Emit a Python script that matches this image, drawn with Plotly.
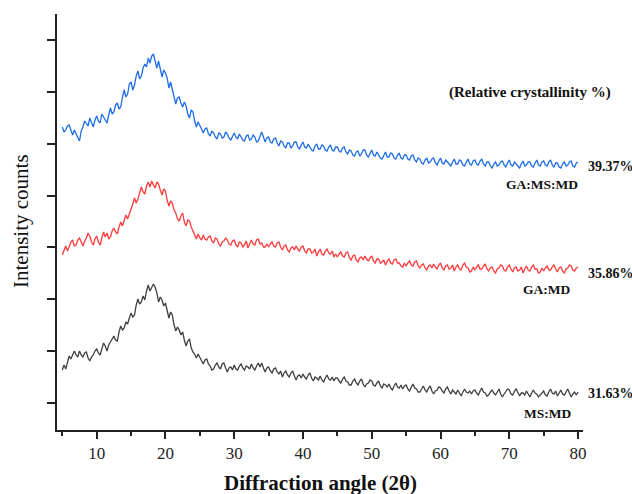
import plotly.graph_objects as go

# Diffraction angle 2θ (degrees)
two_theta = [
    5.0, 5.25, 5.5, 5.75, 6.0, 6.25, 6.5, 6.75, 7.0, 7.25, 7.5, 7.75, 8.0, 8.25, 8.5, 8.75, 9.0, 9.25, 9.5, 9.75,
    10.0, 10.25, 10.5, 10.75, 11.0, 11.25, 11.5, 11.75, 12.0, 12.25, 12.5, 12.75, 13.0, 13.25, 13.5, 13.75, 14.0, 14.25, 14.5, 14.75,
    15.0, 15.25, 15.5, 15.75, 16.0, 16.25, 16.5, 16.75, 17.0, 17.25, 17.5, 17.75, 18.0, 18.25, 18.5, 18.75, 19.0, 19.25, 19.5, 19.75,
    20.0, 20.25, 20.5, 20.75, 21.0, 21.25, 21.5, 21.75, 22.0, 22.25, 22.5, 22.75, 23.0, 23.25, 23.5, 23.75, 24.0, 24.25, 24.5, 24.75,
    25.0, 25.25, 25.5, 25.75, 26.0, 26.25, 26.5, 26.75, 27.0, 27.25, 27.5, 27.75, 28.0, 28.25, 28.5, 28.75, 29.0, 29.25, 29.5, 29.75,
    30.0, 30.25, 30.5, 30.75, 31.0, 31.25, 31.5, 31.75, 32.0, 32.25, 32.5, 32.75, 33.0, 33.25, 33.5, 33.75, 34.0, 34.25, 34.5, 34.75,
    35.0, 35.25, 35.5, 35.75, 36.0, 36.25, 36.5, 36.75, 37.0, 37.25, 37.5, 37.75, 38.0, 38.25, 38.5, 38.75, 39.0, 39.25, 39.5, 39.75,
    40.0, 40.25, 40.5, 40.75, 41.0, 41.25, 41.5, 41.75, 42.0, 42.25, 42.5, 42.75, 43.0, 43.25, 43.5, 43.75, 44.0, 44.25, 44.5, 44.75,
    45.0, 45.25, 45.5, 45.75, 46.0, 46.25, 46.5, 46.75, 47.0, 47.25, 47.5, 47.75, 48.0, 48.25, 48.5, 48.75, 49.0, 49.25, 49.5, 49.75,
    50.0, 50.25, 50.5, 50.75, 51.0, 51.25, 51.5, 51.75, 52.0, 52.25, 52.5, 52.75, 53.0, 53.25, 53.5, 53.75, 54.0, 54.25, 54.5, 54.75,
    55.0, 55.25, 55.5, 55.75, 56.0, 56.25, 56.5, 56.75, 57.0, 57.25, 57.5, 57.75, 58.0, 58.25, 58.5, 58.75, 59.0, 59.25, 59.5, 59.75,
    60.0, 60.25, 60.5, 60.75, 61.0, 61.25, 61.5, 61.75, 62.0, 62.25, 62.5, 62.75, 63.0, 63.25, 63.5, 63.75, 64.0, 64.25, 64.5, 64.75,
    65.0, 65.25, 65.5, 65.75, 66.0, 66.25, 66.5, 66.75, 67.0, 67.25, 67.5, 67.75, 68.0, 68.25, 68.5, 68.75, 69.0, 69.25, 69.5, 69.75,
    70.0, 70.25, 70.5, 70.75, 71.0, 71.25, 71.5, 71.75, 72.0, 72.25, 72.5, 72.75, 73.0, 73.25, 73.5, 73.75, 74.0, 74.25, 74.5, 74.75,
    75.0, 75.25, 75.5, 75.75, 76.0, 76.25, 76.5, 76.75, 77.0, 77.25, 77.5, 77.75, 78.0, 78.25, 78.5, 78.75, 79.0, 79.25, 79.5, 79.75,
    80.0,
]

# Intensity counts (stacked, arbitrary units)
ga_ms_md = [
    303, 298, 300, 304, 305, 299, 295, 300, 296, 292, 289, 299, 303, 309, 306, 304, 312, 307, 303, 310,
    314, 309, 307, 316, 313, 309, 307, 315, 322, 316, 318, 325, 327, 321, 323, 333, 340, 333, 336, 346,
    348, 340, 345, 354, 359, 351, 354, 362, 366, 363, 372, 367, 374, 376, 368, 362, 369, 361, 353, 360,
    357, 352, 342, 348, 340, 335, 326, 332, 333, 327, 323, 328, 324, 316, 312, 320, 318, 309, 303, 308,
    305, 301, 297, 301, 302, 296, 294, 299, 297, 293, 291, 297, 296, 292, 293, 298, 296, 292, 290, 294,
    297, 293, 291, 296, 293, 290, 289, 294, 295, 290, 291, 295, 293, 288, 289, 293, 298, 293, 288, 292,
    293, 288, 287, 291, 292, 287, 284, 289, 288, 284, 282, 287, 287, 282, 284, 288, 288, 283, 281, 285,
    288, 283, 282, 286, 283, 280, 279, 284, 286, 281, 281, 285, 284, 280, 279, 283, 285, 280, 279, 283,
    283, 279, 278, 282, 283, 278, 276, 280, 279, 275, 274, 278, 279, 274, 276, 280, 280, 275, 273, 277,
    280, 275, 274, 278, 275, 272, 271, 275, 278, 273, 273, 277, 276, 272, 271, 275, 277, 272, 271, 275,
    275, 271, 270, 274, 275, 270, 268, 272, 271, 267, 266, 270, 272, 267, 268, 271, 272, 267, 265, 269,
    272, 267, 266, 270, 268, 265, 264, 268, 271, 266, 266, 270, 269, 265, 264, 268, 271, 266, 265, 269,
    270, 266, 265, 269, 271, 266, 264, 268, 268, 264, 262, 266, 268, 264, 265, 268, 269, 265, 263, 267,
    270, 265, 264, 268, 266, 263, 262, 266, 269, 264, 265, 268, 268, 264, 263, 267, 270, 265, 264, 268,
    269, 265, 264, 268, 270, 265, 263, 267, 267, 263, 262, 266, 268, 264, 265, 268, 269, 264, 263, 267,
    268,
]

ga_md = [
    175, 180, 184, 179, 183, 188, 190, 184, 185, 190, 192, 187, 184, 189, 192, 197, 194, 188, 185, 191,
    194, 188, 185, 192, 198, 193, 197, 191, 193, 199, 202, 198, 196, 203, 208, 204, 210, 215, 211, 216,
    219, 226, 232, 227, 231, 238, 243, 238, 236, 244, 248, 243, 249, 245, 242, 248, 246, 240, 235, 241,
    239, 230, 224, 229, 227, 220, 217, 211, 209, 214, 217, 208, 204, 210, 209, 203, 199, 196, 191, 196,
    192, 190, 195, 191, 190, 193, 194, 189, 187, 192, 191, 186, 184, 188, 189, 192, 190, 186, 185, 189,
    190, 185, 183, 188, 187, 183, 185, 189, 182, 186, 190, 186, 185, 190, 191, 186, 187, 183, 183, 186,
    183, 186, 188, 184, 183, 187, 188, 183, 180, 184, 185, 180, 178, 182, 183, 180, 184, 181, 179, 183,
    184, 179, 177, 181, 181, 177, 178, 181, 174, 178, 181, 176, 175, 179, 181, 177, 176, 179, 173, 176,
    173, 176, 178, 174, 173, 177, 178, 172, 170, 174, 175, 170, 168, 172, 173, 170, 174, 171, 169, 172,
    174, 169, 167, 171, 171, 167, 168, 170, 165, 169, 171, 167, 166, 170, 171, 167, 167, 164, 163, 167,
    164, 167, 169, 165, 164, 168, 169, 164, 162, 165, 166, 162, 160, 164, 165, 162, 166, 163, 161, 165,
    167, 162, 160, 164, 165, 161, 162, 165, 159, 163, 165, 161, 160, 165, 167, 163, 162, 158, 159, 163,
    160, 163, 165, 161, 161, 164, 166, 161, 159, 162, 163, 159, 157, 161, 162, 165, 164, 160, 159, 163,
    165, 161, 158, 162, 163, 159, 160, 163, 157, 161, 164, 160, 159, 163, 165, 161, 161, 157, 158, 162,
    159, 162, 164, 160, 160, 163, 165, 161, 158, 162, 163, 159, 157, 161, 162, 165, 164, 160, 159, 162,
    163,
]

ms_md = [
    60, 65, 61, 68, 74, 71, 75, 79, 75, 73, 79, 75, 73, 77, 78, 72, 69, 73, 75, 79,
    81, 77, 75, 82, 87, 84, 79, 85, 88, 92, 94, 90, 89, 98, 104, 100, 102, 108, 106, 112,
    117, 113, 115, 125, 131, 126, 128, 134, 130, 139, 145, 139, 143, 146, 143, 137, 128, 133, 130, 124,
    127, 120, 112, 118, 115, 105, 99, 103, 100, 95, 98, 90, 84, 89, 91, 82, 78, 76, 72, 76,
    73, 69, 66, 70, 71, 66, 64, 60, 61, 65, 67, 63, 61, 66, 67, 62, 58, 62, 63, 60,
    65, 61, 60, 64, 66, 62, 60, 64, 63, 61, 66, 62, 60, 64, 67, 63, 67, 62, 58, 62,
    63, 59, 57, 61, 62, 58, 56, 59, 53, 57, 59, 55, 53, 57, 59, 54, 50, 54, 55, 52,
    56, 53, 51, 55, 57, 52, 49, 53, 52, 50, 54, 50, 48, 52, 55, 51, 50, 53, 49, 52,
    52, 49, 47, 51, 53, 49, 48, 45, 45, 49, 51, 47, 45, 49, 51, 46, 43, 46, 47, 50,
    49, 45, 44, 47, 49, 44, 42, 46, 45, 43, 46, 42, 40, 44, 47, 43, 42, 45, 41, 44,
    45, 41, 39, 43, 46, 42, 41, 38, 38, 41, 44, 40, 38, 42, 44, 39, 36, 39, 40, 43,
    42, 39, 37, 41, 43, 39, 36, 40, 38, 36, 40, 37, 34, 38, 41, 38, 37, 39, 36, 39,
    40, 37, 35, 39, 42, 38, 37, 34, 35, 38, 40, 37, 35, 38, 41, 36, 33, 36, 38, 41,
    40, 36, 35, 39, 41, 37, 34, 37, 37, 35, 39, 36, 33, 37, 40, 37, 36, 33, 35, 38,
    39, 35, 34, 38, 41, 37, 36, 39, 34, 37, 40, 36, 35, 38, 41, 37, 33, 36, 38, 35,
    38,
]

series_names = ["GA:MS:MD", "GA:MD", "MS:MD"]
crystallinity = ["39.37%", "35.86%", "31.63%"]
colors = ["#1f6ee6", "#ff3b3b", "#404040"]
y_ticks = [27, 79, 131, 183, 234, 286, 338, 390]
x_ticks = [10, 20, 30, 40, 50, 60, 70, 80]

SERIF = "Liberation Serif, Times New Roman, serif"

fig = go.Figure()
for name, ys, col in zip(series_names, [ga_ms_md, ga_md, ms_md], colors):
    fig.add_trace(go.Scatter(x=two_theta, y=ys, mode="lines", name=name,
                             line=dict(color=col, width=1.3)))

# plot area in pixels: x 57..583, y 14..430
L, R, T, B = 57, 583, 14, 430
W, H = R - L, B - T


def px(xp):
    return (xp - L) / W


def py(yp):
    return (B - yp) / H


annotations = [
    dict(text="<b>(Relative crystallinity %)</b>", x=px(447), y=py(92),
         xanchor="left", yanchor="middle", font=dict(size=15)),
]
pct_y = [166, 273, 393]
name_y = [184, 289, 413]
name_x = [542, 546, 547]
for i in range(3):
    annotations.append(dict(text="<b>%s</b>" % crystallinity[i], x=px(586), y=py(pct_y[i]),
                            xanchor="left", yanchor="middle", font=dict(size=14)))
    annotations.append(dict(text="<b>%s</b>" % series_names[i], x=px(name_x[i]), y=py(name_y[i]),
                            xanchor="center", yanchor="middle", font=dict(size=13.5)))
annotations.append(dict(text="<b>Diffraction angle (2θ)</b>", x=px(320), y=py(483),
                        xanchor="center", yanchor="middle", font=dict(size=21)))
annotations.append(dict(text="Intensity counts", x=px(21), y=py(221), textangle=-90,
                        xanchor="center", yanchor="middle", font=dict(size=21)))
for a in annotations:
    a.update(xref="paper", yref="paper", showarrow=False)
    a["font"].update(family=SERIF, color="#111111")

fig.update_layout(
    width=632, height=494,
    margin=dict(l=L, r=632 - R, t=T, b=494 - B, pad=0),
    paper_bgcolor="white", plot_bgcolor="white",
    showlegend=False,
    font=dict(family=SERIF, color="#111111"),
    annotations=annotations,
    xaxis=dict(range=[4.23, 80.72], tickvals=x_ticks, ticks="outside", ticklen=7,
               tickwidth=1.5, tickcolor="#222222", showline=True, linewidth=2,
               linecolor="#222222", showgrid=False, zeroline=False,
               tickfont=dict(size=17, family=SERIF, color="#222222"),
               minor=dict(dtick=5, tick0=0, ticks="outside", ticklen=4,
                          tickwidth=1.5, tickcolor="#222222", showgrid=False)),
    yaxis=dict(range=[0, 416], tickvals=y_ticks, ticks="outside", ticklen=8,
               tickwidth=1.5, tickcolor="#222222", showticklabels=False,
               showline=True, linewidth=2, linecolor="#222222",
               showgrid=False, zeroline=False),
)

fig.write_html("out.html")
